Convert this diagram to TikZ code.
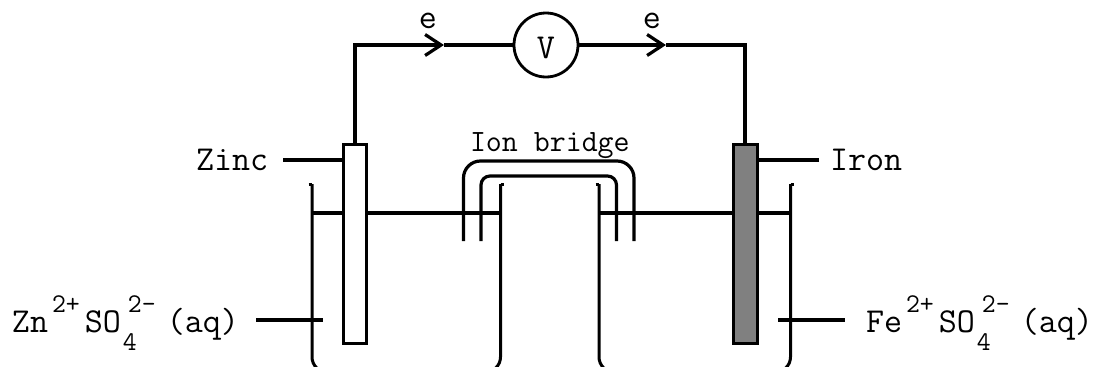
\documentclass[tikz,border=0pt]{standalone}
\usetikzlibrary{arrows.meta}
\newcommand{\fsz}[1]{\fontsize{#1}{#1}\selectfont}
\newcommand{\ionlabel}[2]{#1\kern4pt\raisebox{20pt}{\fsz{27}#2}\kern5pt SO\kern2pt\rlap{\kern5pt\raisebox{20pt}{\fsz{27}2-}}\raisebox{-18pt}{\fsz{27}4}\kern30pt(aq)}
\tikzset{
  x=1pt,y=-1pt,
  wire/.style={line width=3.2pt,black},
  wall/.style={line width=3pt,black},
  electrode/.style={draw=black,line width=3pt,minimum width=23pt,minimum height=199pt,inner sep=0pt,outer sep=0pt},
  meter/.style={circle,draw=black,line width=2.8pt,fill=white,minimum size=64pt,inner sep=0pt,outer sep=0pt},
  lbl/.style={anchor=base west,inner sep=0pt,outer sep=0pt,font=\ttfamily\fsz{35}},
  smalllbl/.style={anchor=base west,inner sep=0pt,outer sep=0pt,font=\ttfamily\fsz{31}},
  barb/.style={-{Straight Barb[length=16pt,width=21pt,line width=3.2pt]}}
}
\begin{document}
\begin{tikzpicture}
\useasboundingbox (0,0) rectangle (1093,367);
\clip (0,0) rectangle (1093,367);
\fill[white] (0,0) rectangle (1093,367);

% liquid surfaces
\coordinate (la) at (312,213); \coordinate (lb) at (500.5,213);
\coordinate (ra) at (599,213); \coordinate (rb) at (790,213);
\draw[wire] (la) -- (lb);
\draw[wire] (ra) -- (rb);

% beakers
\draw[wall,rounded corners=15pt] (312,184) -- (312,372) -- (345,372);
\draw[wall,rounded corners=15pt] (500.5,184) -- (500.5,372) -- (467,372);
\draw[wall,rounded corners=15pt] (599,184) -- (599,372) -- (632,372);
\draw[wall,rounded corners=15pt] (790.5,184) -- (790.5,372) -- (757,372);
\draw[wall] (308.5,184.5) -- (312,184.5);
\draw[wall] (500.5,184.5) -- (504,184.5);
\draw[wall] (595.5,184.5) -- (599,184.5);
\draw[wall] (790.5,184.5) -- (794,184.5);

% ion bridge
\draw[wire,rounded corners=17pt] (463.5,241) -- (463.5,161) -- (634,161) -- (634,241);
\draw[wire,rounded corners=9pt] (481,241) -- (481,176) -- (616.5,176) -- (616.5,241);

% electrodes
\node[electrode,fill=white] (zinc) at (355,244) {};
\node[electrode,fill=black!50,minimum width=24pt] (iron) at (745,244) {};

% voltmeter and circuit
\node[meter] (volt) at (546,45) {};
\node[lbl,anchor=base] (vtxt) at (546,58) {V};
\coordinate (tipa) at (444,45);
\coordinate (tipb) at (666,45);
\draw[wire,barb] (zinc.north) |- (tipa);
\draw[wire] (tipa) -- (volt.west);
\draw[wire,barb] (volt.east) -- (tipb);
\draw[wire] (tipb) -| (iron.north);
\node[lbl,anchor=base] (ea) at (428,28) {e};
\node[lbl,anchor=base] (eb) at (652,28) {e};

% leaders
\coordinate (zincend) at (283,160);
\coordinate (ironend) at (819,160);
\draw[wire] (zincend) -- (zincend -| zinc.west);
\draw[wire] (ironend) -- (ironend -| iron.east);
\coordinate (zna) at (256,320); \coordinate (znb) at (323,320);
\coordinate (fea) at (778,320); \coordinate (feb) at (845,320);
\draw[wire] (zna) -- (znb);
\draw[wire] (fea) -- (feb);

% labels
\node[lbl] (zinctxt) at (196,170) {Zinc};
\node[lbl] (irontxt) at (830,170) {Iron};
\node[smalllbl] (bridgetxt) at (470,151) {Ion bridge};
\node[lbl] (zntxt) at (12,332) {\ionlabel{Zn}{2+}};
\node[lbl] (fetxt) at (866,332) {\ionlabel{Fe}{2+}};
\end{tikzpicture}
\end{document}
